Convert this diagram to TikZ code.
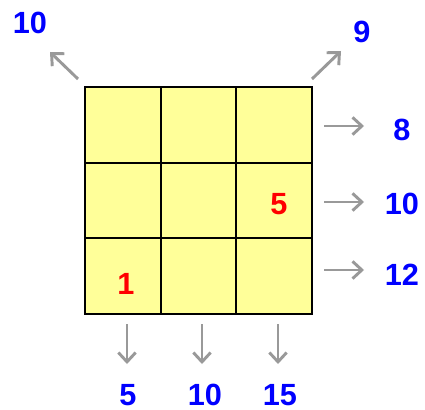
\documentclass[tikz,border=0pt]{standalone}
\usepackage{fontspec}
\setmainfont{Liberation Sans}
\usetikzlibrary{arrows.meta}
\definecolor{cellyellow}{HTML}{FFFF99}
\definecolor{arrgray}{HTML}{999999}
\definecolor{numblue}{HTML}{0000FF}
\definecolor{numred}{HTML}{FF0000}
\tikzset{
  cell/.style={draw=black, line width=1.6pt, fill=cellyellow, minimum width=56.75pt, minimum height=56.75pt, inner sep=0pt, outer sep=0pt},
  sumarrow/.style={draw=arrgray, line width=2.2pt, -{Straight Barb[length=7pt, width=13pt, line width=2.2pt]}},
  bluenum/.style={text=numblue, font=\bfseries\fontsize{23}{26}\selectfont, inner sep=0pt},
  rednum/.style={text=numred, font=\bfseries\fontsize{23}{26}\selectfont, inner sep=0pt}
}
\begin{document}
\begin{tikzpicture}[x=0.75pt, y=-0.75pt]
\useasboundingbox (0,0) rectangle (425,410);
% grid cells
\node[cell] (c11) at (123,125) {};
\node[cell] (c12) at (199,125) {};
\node[cell] (c13) at (274,125) {};
\node[cell] (c21) at (123,201) {};
\node[cell] (c22) at (199,201) {};
\node[cell] (c23) at (274,201) {};
\node[cell] (c31) at (123,276) {};
\node[cell] (c32) at (199,276) {};
\node[cell] (c33) at (274,276) {};
% red numbers
\node[rednum] (r5) at (279,204) {5};
\node[rednum] (r1) at (126,284) {1};
% arrow endpoints
\coordinate (dl0) at (78,79);   \coordinate (dl1) at (50,52);
\coordinate (dr0) at (312,79);  \coordinate (dr1) at (341,51);
\coordinate (ra0) at (324,126); \coordinate (ra1) at (364,126);
\coordinate (rb0) at (324,202); \coordinate (rb1) at (364,202);
\coordinate (rc0) at (324,270); \coordinate (rc1) at (364,270);
\coordinate (ba0) at (127,324); \coordinate (ba1) at (127,364);
\coordinate (bb0) at (202,324); \coordinate (bb1) at (202,364);
\coordinate (bc0) at (278,324); \coordinate (bc1) at (278,364);
\draw[sumarrow] (dl0) -- (dl1);
\draw[sumarrow] (dr0) -- (dr1);
\draw[sumarrow] (ra0) -- (ra1);
\draw[sumarrow] (rb0) -- (rb1);
\draw[sumarrow] (rc0) -- (rc1);
\draw[sumarrow] (ba0) -- (ba1);
\draw[sumarrow] (bb0) -- (bb1);
\draw[sumarrow] (bc0) -- (bc1);
% blue sums
\node[bluenum] (sdl) at (30,23) {10};
\node[bluenum] (sdr) at (362,32) {9};
\node[bluenum] (sra) at (402,130) {8};
\node[bluenum] (srb) at (402,204) {10};
\node[bluenum] (src) at (402,275) {12};
\node[bluenum] (sba) at (128,395) {5};
\node[bluenum] (sbb) at (205,395) {10};
\node[bluenum] (sbc) at (280,395) {15};
\end{tikzpicture}
\end{document}
